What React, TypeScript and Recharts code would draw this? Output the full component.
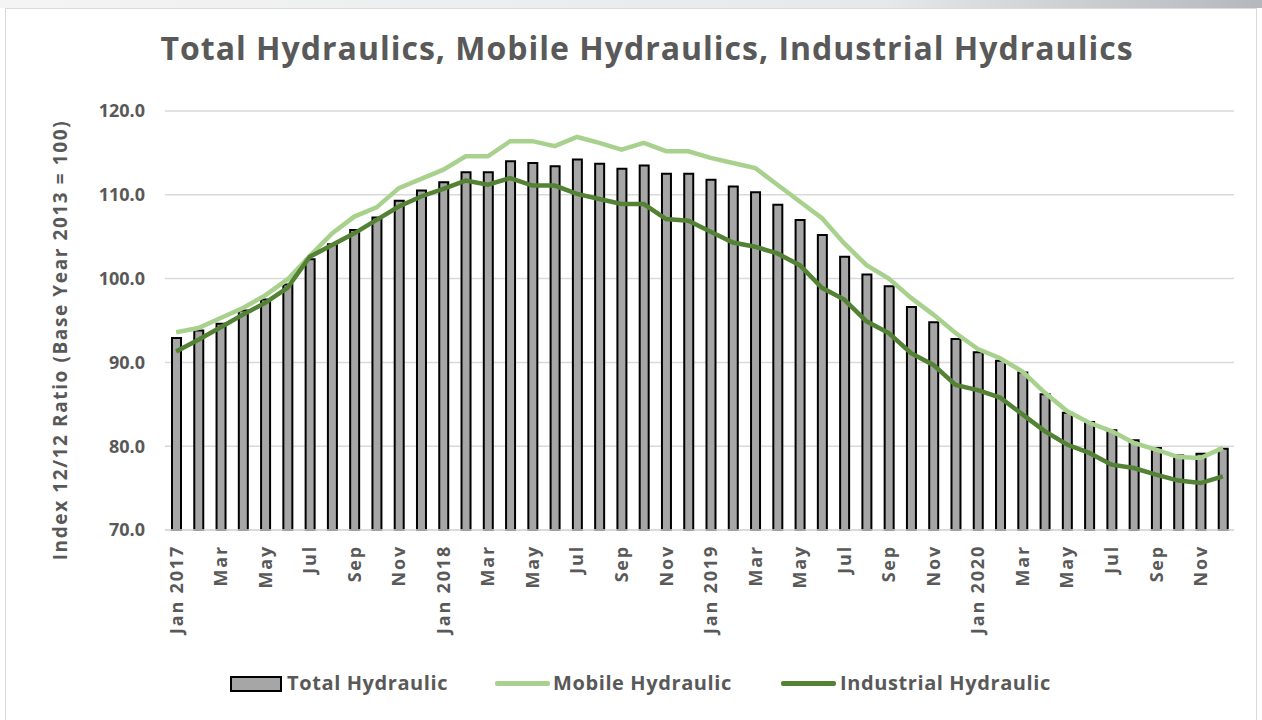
// hydraulics index chart: total as bars, mobile + industrial as lines over the top
import { ComposedChart, Bar, Line, XAxis, YAxis, CartesianGrid } from "recharts";

// month labels, only the even ones get shown on the axis (interval 1)
const months = [
  "Jan 2017", "Feb", "Mar", "Apr", "May", "Jun", "Jul", "Aug", "Sep", "Oct", "Nov", "Dec",
  "Jan 2018", "Feb", "Mar", "Apr", "May", "Jun", "Jul", "Aug", "Sep", "Oct", "Nov", "Dec",
  "Jan 2019", "Feb", "Mar", "Apr", "May", "Jun", "Jul", "Aug", "Sep", "Oct", "Nov", "Dec",
  "Jan 2020", "Feb", "Mar", "Apr", "May", "Jun", "Jul", "Aug", "Sep", "Oct", "Nov", "Dec",
];

// values read off the picture, so they are estimates
const totalHydraulic = [
  92.9, 93.8, 94.6, 96.2, 97.5, 99.3, 102.3, 104.1, 105.8, 107.3, 109.3, 110.5,
  111.5, 112.7, 112.7, 114.0, 113.8, 113.4, 114.2, 113.7, 113.1, 113.5, 112.5, 112.5,
  111.8, 111.0, 110.3, 108.8, 107.0, 105.2, 102.6, 100.5, 99.1, 96.6, 94.8, 92.8,
  91.2, 90.2, 88.8, 86.2, 84.0, 82.9, 81.9, 80.7, 79.8, 78.9, 79.1, 79.7,
];

const mobileHydraulic = [
  93.6, 94.1, 95.3, 96.5, 98.0, 99.9, 102.7, 105.4, 107.4, 108.5, 110.8, 111.9,
  113.0, 114.6, 114.6, 116.4, 116.4, 115.8, 116.9, 116.2, 115.4, 116.2, 115.2, 115.2,
  114.4, 113.8, 113.2, 111.2, 109.2, 107.2, 104.2, 101.6, 100.0, 97.7, 95.7, 93.5,
  91.6, 90.5, 88.9, 86.4, 84.2, 82.8, 81.8, 80.4, 79.6, 78.7, 78.6, 79.8,
];

const industrialHydraulic = [
  91.3, 92.7, 94.2, 95.7, 97.1, 98.9, 102.6, 104.0, 105.4, 107.0, 108.6, 109.8,
  110.7, 111.7, 111.2, 112.0, 111.1, 111.1, 110.1, 109.5, 108.9, 108.9, 107.1, 106.9,
  105.6, 104.3, 103.8, 103.0, 101.6, 98.9, 97.5, 94.9, 93.5, 91.1, 89.7, 87.3,
  86.7, 85.8, 83.8, 81.8, 80.2, 79.2, 77.8, 77.4, 76.6, 75.9, 75.6, 76.4,
];

const yTicks = [70, 80, 90, 100, 110, 120];

const data = months.map((m, i) => ({
  month: m,
  total: totalHydraulic[i],
  mobile: mobileHydraulic[i],
  industrial: industrialHydraulic[i],
}));

const FONT = "'Open Sans', 'Noto Sans', sans-serif";
const TEXT = "#595959";
const BAR_FILL = "#a6a6a6";
const MOBILE = "#a9d18e";
const INDUSTRIAL = "#548235";

// rotated month labels, text hangs down from just under the axis
function MonthTick(props: any) {
  const { x, y, payload } = props;
  const ty = y + 7;
  return (
    <text
      x={x}
      y={ty}
      transform={`rotate(-90, ${x}, ${ty})`}
      textAnchor="end"
      dy="0.36em"
      fill={TEXT}
      fontFamily={FONT}
      fontWeight={700}
      fontSize={18}
      letterSpacing={1.8}
    >
      {payload.value}
    </text>
  );
}

const legendText = {
  position: "absolute" as const,
  top: 669,
  fontSize: 20,
  fontWeight: 700,
  letterSpacing: 0.6,
  color: TEXT,
  whiteSpace: "nowrap" as const,
};

export default function App() {
  return (
    <div
      style={{
        position: "absolute",
        left: 0,
        top: 0,
        width: 1262,
        height: 720,
        background: "#fff",
        overflow: "hidden",
        fontFamily: FONT,
      }}
    >
      {/* grey strip + frame around the chart like the screenshot */}
      <div
        style={{
          position: "absolute",
          left: 0,
          top: 0,
          width: 1262,
          height: 8,
          background: "linear-gradient(to right, #f4f4f4, #e6e8ea 70%, #b4b8bc)",
        }}
      />
      <div
        style={{
          position: "absolute",
          left: 5,
          top: 8,
          width: 1250,
          height: 720,
          border: "1px solid #d9d9d9",
        }}
      />
      <div
        style={{
          position: "absolute",
          left: 0,
          top: 26,
          width: 1294,
          textAlign: "center",
          fontSize: 32,
          letterSpacing: 1,
          fontWeight: 700,
          color: TEXT,
        }}
      >
        Total Hydraulics, Mobile Hydraulics, Industrial Hydraulics
      </div>

      <div style={{ position: "absolute", left: 0, top: 0 }}>
        <ComposedChart
          width={1262}
          height={720}
          data={data}
          margin={{ top: 111, right: 28, left: 0, bottom: 70 }}
          barCategoryGap={0}
        >
          <CartesianGrid vertical={false} stroke="#d9d9d9" strokeWidth={1.5} />
          <XAxis
            dataKey="month"
            interval={1}
            tick={<MonthTick />}
            tickLine={false}
            axisLine={{ stroke: "#d9d9d9", strokeWidth: 1.5 }}
            height={120}
          />
          <YAxis
            domain={[70, 120]}
            ticks={yTicks}
            width={165}
            tickFormatter={(v: number) => v.toFixed(1)}
            tick={{ fill: TEXT, fontSize: 18, fontWeight: 700, fontFamily: FONT }}
            tickLine={false}
            axisLine={false}
            tickMargin={14}
          />
          <Bar
            dataKey="total"
            fill={BAR_FILL}
            stroke="#000"
            strokeWidth={2}
            barSize={9}
            isAnimationActive={false}
          />
          <Line
            dataKey="mobile"
            type="linear"
            stroke={MOBILE}
            strokeWidth={4.5}
            dot={false}
            isAnimationActive={false}
          />
          <Line
            dataKey="industrial"
            type="linear"
            stroke={INDUSTRIAL}
            strokeWidth={4.5}
            dot={false}
            isAnimationActive={false}
          />
        </ComposedChart>
      </div>

      {/* y axis title, rotated */}
      <svg
        style={{ position: "absolute", left: 0, top: 0 }}
        width={120}
        height={720}
      >
        <text
          x={60}
          y={340}
          transform="rotate(-90, 60, 340)"
          textAnchor="middle"
          dy="0.35em"
          fill={TEXT}
          fontFamily={FONT}
          fontWeight={700}
          fontSize={19}
          letterSpacing={1.6}
        >
          Index 12/12 Ratio (Base Year 2013 = 100)
        </text>
      </svg>

      {/* legend, placed by hand to match the original spacing */}
      <span
        style={{
          position: "absolute",
          left: 230,
          top: 676,
          width: 48,
          height: 12,
          background: BAR_FILL,
          border: "2px solid #000",
        }}
      />
      <span style={{ ...legendText, left: 287 }}>Total Hydraulic</span>
      <span
        style={{
          position: "absolute",
          left: 495,
          top: 681,
          width: 55,
          height: 5,
          background: MOBILE,
          borderRadius: 2,
        }}
      />
      <span style={{ ...legendText, left: 553 }}>Mobile Hydraulic</span>
      <span
        style={{
          position: "absolute",
          left: 781,
          top: 681,
          width: 55,
          height: 5,
          background: INDUSTRIAL,
          borderRadius: 2,
        }}
      />
      <span style={{ ...legendText, left: 840 }}>Industrial Hydraulic</span>
    </div>
  );
}
